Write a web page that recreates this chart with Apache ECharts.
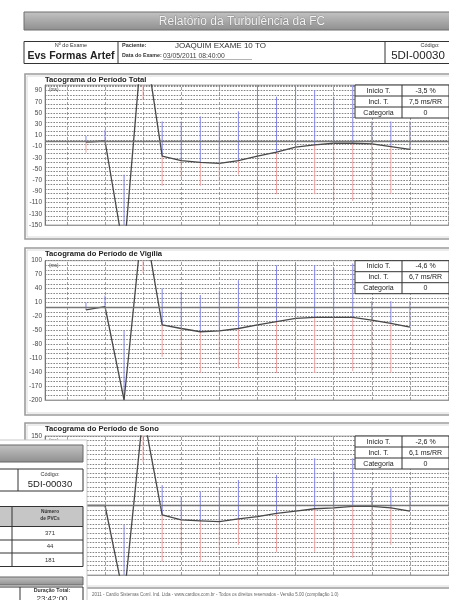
<!DOCTYPE html>
<html><head><meta charset="utf-8">
<script src="https://cdn.jsdelivr.net/npm/echarts@6/dist/echarts.min.js"></script>
<style>html,body{margin:0;padding:0;background:#fff}#c{width:449px;height:600px}</style>
</head><body><div id="c"></div><script>
// ---- data ----
const sampleX = [1,2,3,4,5,6,7,8,9,10,11,12,13,14,15,16,17,18];
const gridX = [0,2,4,6,8,10,12,14,16,18,20];

const totalRR = [-2, 0, -200, 200, -27, -35, -38, -40, -35, -27, -20, -11, -7, -4, -4, -5, -10, -15];
const totalHi = [9, 20, -60, null, 35, 35, 44, 35, 53, 110, 79, 110, 91, 79, 110, 35, 35, 35];
const totalLo = [-21, null, null, 73, -80, -65, -80, -72, -60, -119, -95, -125, -95, -107, -107, -107, -95, null];

const vigiliaRR = [-6, 1, -200, 200, -38, -46, -53, -51, -46, -38, -31, -24, -22, -22, -22, -28, -35, -43];
const vigiliaHi = [10, 25, -50, null, 40, 33, 26, 36, 58, 94, 90, 94, 90, 84, 94, 13, 13, 13];
const vigiliaLo = [null, null, null, 73, -107, -114, -142, -121, -132, -142, -142, -142, -142, -142, -138, -142, -142, null];

const sonoRR = [0, 0, -200, 200, -20, -31, -33, -35, -29, -24, -17, -12, -7, -5, -2, -2, -5, -12];
const sonoHi = [null, null, -42, null, 44, 19, 30, 37, 55, 102, 66, 102, 102, 73, 102, 37, 37, 37];
const sonoLo = [null, null, null, 94, -121, -103, -121, -107, -85, -121, -100, -121, -100, -107, -113, -113, -85, null];

const chartTitles = ['Tacograma do Período Total', 'Tacograma do Período de Vigília', 'Tacograma do Período de Sono'];
const yMin = [-150, -200, -150];
const yMax = [100, 100, 150];
const yStep = [20, 30, 30];
const dotStep = [8, 10, 10];
const infoLabels = ['Início T.', 'Incl. T.', 'Categoria'];
const infoValues = [['-3,5 %', '7,5 ms/RR', '0'], ['-4,6 %', '6,7 ms/RR', '0'], ['-2,6 %', '6,1 ms/RR', '0']];
const pvcCounts = ['371', '44', '181'];

// ---- layout ----
const FONT = "'Liberation Sans', Arial, sans-serif";
const gridTops = [85, 260.7, 436];
const gridHeights = [140, 139.3, 139];
const panelBoxes = [[25, 74, 440, 165], [25, 248, 440, 167], [25, 423, 440, 165]];
const xMin = -1.149, xMax = 20.05;

const seriesSets = [[totalRR, totalHi, totalLo], [vigiliaRR, vigiliaHi, vigiliaLo], [sonoRR, sonoHi, sonoLo]];

function rangeRender(params, api) {
  const cs = params.coordSys;
  const clampY = y => Math.max(cs.y, Math.min(cs.y + cs.height, y));
  const x = api.value(0), v = api.value(1), hi = api.value(2), lo = api.value(3);
  const p = api.coord([x, v]);
  const py = clampY(p[1]);
  const children = [];
  if (!isNaN(hi) && hi !== null) {
    const ph = api.coord([x, hi]);
    children.push({type: 'line', shape: {x1: p[0], y1: py, x2: p[0], y2: clampY(ph[1])},
      style: {stroke: '#8585ea', lineWidth: 1}});
  }
  if (!isNaN(lo) && lo !== null) {
    const pl = api.coord([x, lo]);
    children.push({type: 'line', shape: {x1: p[0], y1: py, x2: p[0], y2: clampY(pl[1])},
      style: {stroke: '#f0a0a0', lineWidth: 1}});
  }
  return {type: 'group', children};
}

const grids = [], xAxes = [], yAxes = [], series = [];
for (let k = 0; k < 3; k++) {
  grids.push({left: 45, right: 0, top: gridTops[k], height: gridHeights[k], show: true,
    backgroundColor: '#fff', borderColor: '#aaa', borderWidth: 1});
  xAxes.push({type: 'value', gridIndex: k, min: xMin, max: xMax,
    axisLabel: {show: false}, axisTick: {show: false}, splitLine: {show: false},
    axisLine: {show: true, onZero: false, lineStyle: {color: '#999', width: 1}}});
  yAxes.push({type: 'value', gridIndex: k, min: yMin[k], max: yMax[k], interval: yStep[k],
    axisLabel: {show: true, fontSize: 6.5, color: '#444', fontFamily: FONT, margin: 3, showMaxLabel: k !== 0},
    axisTick: {show: false}, splitLine: {show: false},
    axisLine: {show: true, onZero: false, lineStyle: {color: '#777', width: 1}}});
  yAxes.push({type: 'value', gridIndex: k, min: yMin[k], max: yMax[k], interval: dotStep[k],
    axisLabel: {show: false}, axisTick: {show: false}, axisLine: {show: false},
    splitLine: {show: true, lineStyle: {color: '#777', width: 0.9, type: [1.6, 1.2]}}});
  const [rr, hi, lo] = seriesSets[k];
  series.push({type: 'custom', xAxisIndex: k, yAxisIndex: 2 * k, z: 2,
    encode: {x: 0, y: 1}, renderItem: rangeRender,
    data: sampleX.map((x, i) => [x, rr[i], hi[i] === null ? NaN : hi[i], lo[i] === null ? NaN : lo[i]])});
  series.push({type: 'line', xAxisIndex: k, yAxisIndex: 2 * k, z: 4, symbol: 'none',
    lineStyle: {color: '#484848', width: 1.3}, clip: true,
    data: sampleX.map((x, i) => [x, rr[i]]),
    markLine: {silent: true, symbol: 'none', label: {show: false}, animation: false,
      data: gridX.map(v => ({xAxis: v, lineStyle: {color: '#888', width: 0.8, type: [3, 2]}}))
        .concat([{yAxis: 0, lineStyle: {color: '#777', width: 1.3, type: 'solid'}}])}});
}

// ---- graphics ----
const G = [];
function R(x, y, w, h, fill, stroke, lw, z) { G.push({type: 'rect', z: z || 0, shape: {x, y, width: w, height: h}, style: {fill: fill || 'none', stroke: stroke || 'none', lineWidth: lw || 1}}); }
function L(x1, y1, x2, y2, stroke, lw, z) { G.push({type: 'line', z: z || 0, shape: {x1, y1, x2, y2}, style: {stroke, lineWidth: lw || 1}}); }
function T(text, x, y, size, opts) {
  opts = opts || {};
  G.push({type: 'text', z: opts.z || 1, x, y, style: {text, fill: opts.fill || '#222',
    font: (opts.bold ? 'bold ' : '') + size + 'px ' + FONT,
    align: opts.align || 'left', textAlign: opts.align || 'left', verticalAlign: 'middle', textVerticalAlign: 'middle',
    stroke: opts.stroke, lineWidth: opts.lw || 0}});
}
const grayGrad = {type: 'linear', x: 0, y: 0, x2: 0, y2: 1, colorStops: [{offset: 0, color: '#c4c4c4'}, {offset: 1, color: '#8e8e8e'}]};

// title bar
R(24, 12, 440, 18, grayGrad, '#6e6e6e', 1);
T('Relatório da Turbulência da FC', 242, 21.5, 12, {align: 'center', fill: '#f4f4f4', stroke: '#777', lw: 0.6});

// header box
R(24, 41.5, 440, 22, '#fff', '#333', 1);
L(118, 41.5, 118, 63.5, '#333', 1);
L(385, 41.5, 385, 63.5, '#333', 1);
T('Nº do Exame', 71, 45.5, 5.5, {align: 'center', fill: '#333'});
T('Evs Formas Artef', 71, 56, 10.5, {align: 'center', bold: true, fill: '#222'});
T('Paciente:', 122, 45.5, 5.5, {bold: true, fill: '#333'});
T('JOAQUIM EXAME 10 TO', 175, 45.5, 8, {fill: '#333'});
T('Data do Exame:', 122, 56, 5.3, {bold: true, fill: '#333'});
T('03/05/2011 08:40:00', 163, 56, 6.8, {fill: '#444'});
L(163, 59.5, 252, 59.5, '#666', 0.5);
T('Código:', 430, 45.5, 5.5, {align: 'center', fill: '#333'});
T('5DI-00030', 418, 56, 11.5, {align: 'center', fill: '#222'});

// panels, titles, info tables
for (let k = 0; k < 3; k++) {
  const b = panelBoxes[k];
  R(b[0], b[1], b[2], b[3], 'none', '#9c9c9c', 1.6);
  R(b[0] + 2, b[1] + 2, b[2] - 4, b[3] - 4, 'none', '#dadada', 1);
  T(chartTitles[k], 45, b[1] + 6, 7.6, {bold: true, fill: '#222'});
  T('(ms)', 49, gridTops[k] + 5, 4.8, {fill: '#444'});
  const ty = gridTops[k];
  R(355, ty, 94, 33, '#fff', '#333', 1, 50);
  L(402, ty, 402, ty + 33, '#333', 1, 51);
  L(355, ty + 11, 449, ty + 11, '#333', 1, 51);
  L(355, ty + 22, 449, ty + 22, '#333', 1, 51);
  for (let r = 0; r < 3; r++) {
    T(infoLabels[r], 378.5, ty + 5.8 + 11 * r, 7, {align: 'center', fill: '#222', z: 52});
    T(infoValues[k][r], 425.5, ty + 5.8 + 11 * r, 7, {align: 'center', fill: '#222', z: 52});
  }
}

// footer
T('2011 - Cardio Sistemas Coml. Ind. Ltda - www.cardios.com.br - Todos os direitos reservados - Versão 5.00 (compilação 1.0)', 92, 595, 4.5, {fill: '#666'});

// overlapping page fragment (bottom-left)
R(-2, 440, 89, 162, '#fff', '#c8c8c8', 1, 100);
R(-2, 445, 85, 17, grayGrad, '#666', 1, 101);
R(-2, 469, 85, 22, '#fff', '#333', 1, 101);
L(18, 469, 18, 491, '#333', 1, 101);
T('Código:', 50, 474.5, 5.5, {align: 'center', fill: '#333', z: 102});
T('5DI-00030', 50, 484.5, 9.5, {align: 'center', fill: '#222', z: 102});
R(-2, 506.5, 85, 20, '#c6c6c6', '#333', 1, 101);
R(-2, 526.5, 85, 40, '#fff', '#333', 1, 101);
L(12, 506.5, 12, 566.5, '#333', 1, 101);
L(-2, 540, 83, 540, '#333', 1, 101);
L(-2, 553, 83, 553, '#333', 1, 101);
T('Número', 50, 512, 4.8, {align: 'center', bold: true, fill: '#333', z: 102});
T('de PVCs', 50, 518.5, 4.8, {align: 'center', bold: true, fill: '#333', z: 102});
for (let r = 0; r < 3; r++) T(pvcCounts[r], 50, 533.5 + 13.2 * r, 6, {align: 'center', fill: '#333', z: 102});
R(-2, 577, 85, 8, grayGrad, '#666', 1, 101);
R(-2, 587, 85, 16, '#fff', '#333', 1, 101);
L(20, 587, 20, 603, '#333', 1, 101);
T('Duração Total:', 52, 591, 5.3, {align: 'center', bold: true, fill: '#333', z: 102});
T('23:42:00', 52, 598.5, 8, {align: 'center', fill: '#333', z: 102});

const chart = echarts.init(document.getElementById('c'), null, {renderer: 'canvas'});
chart.setOption({
  animation: false,
  backgroundColor: '#fff',
  grid: grids, xAxis: xAxes, yAxis: yAxes, series: series,
  graphic: {elements: G}
});
</script></body></html>
